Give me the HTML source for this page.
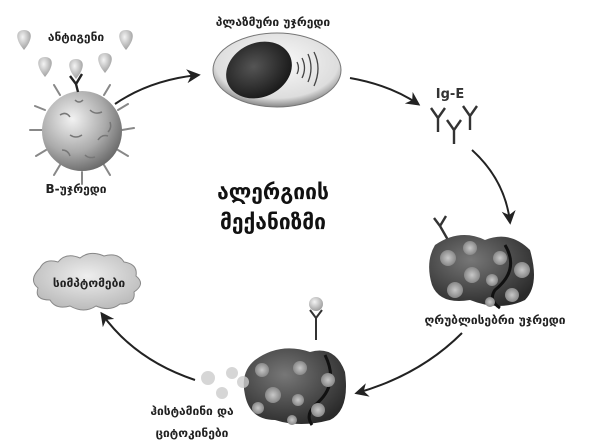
<!DOCTYPE html>
<html><head><meta charset="utf-8"><style>body{margin:0;background:#fff}svg{display:block}</style></head><body>
<svg width="600" height="445" viewBox="0 0 600 445" xmlns="http://www.w3.org/2000/svg" font-family="'DejaVu Sans', sans-serif">
<defs>
<radialGradient id="sph" cx="0.38" cy="0.35" r="0.7"><stop offset="0" stop-color="#f2f2f2"/><stop offset="0.6" stop-color="#aaa"/><stop offset="1" stop-color="#666"/></radialGradient>
<radialGradient id="drop" cx="0.4" cy="0.35" r="0.7"><stop offset="0" stop-color="#f4f4f4"/><stop offset="1" stop-color="#999"/></radialGradient>
<radialGradient id="ell" cx="0.5" cy="0.4" r="0.6"><stop offset="0" stop-color="#fafafa"/><stop offset="0.8" stop-color="#ddd"/><stop offset="1" stop-color="#888"/></radialGradient>
<radialGradient id="nuc" cx="0.45" cy="0.4" r="0.6"><stop offset="0" stop-color="#555"/><stop offset="1" stop-color="#1a1a1a"/></radialGradient>
<radialGradient id="mast" cx="0.4" cy="0.35" r="0.7"><stop offset="0" stop-color="#777"/><stop offset="1" stop-color="#2a2a2a"/></radialGradient>
<radialGradient id="gran" cx="0.5" cy="0.5" r="0.5"><stop offset="0" stop-color="#c8c8c8"/><stop offset="1" stop-color="#888"/></radialGradient>
<radialGradient id="cl" cx="0.5" cy="0.4" r="0.6"><stop offset="0" stop-color="#eee"/><stop offset="1" stop-color="#bbb"/></radialGradient>
<marker id="ah" viewBox="0 0 10 10" refX="8" refY="5" markerWidth="7" markerHeight="7" orient="auto"><path d="M0,0 L10,5 L0,10 L3,5z" fill="#222"/></marker>
<g id="d"><path d="M0,-10 C8,-10 10,-2 0,10 C-10,-2 -8,-10 0,-10z" fill="url(#drop)"/></g>
<g id="y"><path d="M0,0 V14 M0,0 L-7,-10 M0,0 L7,-10" stroke="#333" stroke-width="2.4" fill="none"/></g>
</defs>
<use href="#d" x="24" y="40"/><use href="#d" x="126" y="40"/><use href="#d" x="45" y="67"/><use href="#d" x="105" y="63"/><use href="#d" x="76" y="69"/>
<text x="76" y="41" font-size="12" font-weight="bold" text-anchor="middle" fill="#222">ანტიგენი</text>
<g stroke="#888" stroke-width="2" fill="none" stroke-linecap="round">
<path d="M45,110 l-10,-4 M42,130 l-12,0 M46,150 l-10,6 M60,165 l-6,10 M82,172 l0,12 M104,165 l6,10 M118,150 l10,6 M122,130 l12,-2 M118,110 l10,-6 M104,95 l6,-10 M60,95 l-6,-10"/>
</g>
<circle cx="82" cy="131" r="40" fill="url(#sph)"/>
<g stroke="#777" stroke-width="1.5" fill="none"><path d="M60,115 q6,-4 10,2 M90,110 q5,5 12,2 M70,135 q6,4 12,0 M98,140 q4,-6 10,-4 M62,150 q6,0 8,6 M85,155 q4,4 10,2 M75,100 q4,4 8,0 M110,122 q2,6 -2,10"/></g>
<path d="M78,92 L76,84 M76,84 L70,76 M76,84 L82,74" stroke="#222" stroke-width="2.4" fill="none"/>
<text x="76" y="193" font-size="12" font-weight="bold" text-anchor="middle" fill="#222">B-უჯრედი</text>
<path d="M115,104 Q150,80 198,75" stroke="#222" stroke-width="2" fill="none" marker-end="url(#ah)"/>
<text x="273" y="26" font-size="12" font-weight="bold" text-anchor="middle" fill="#222">პლაზმური უჯრედი</text>
<ellipse cx="277" cy="70" rx="64" ry="37" fill="url(#ell)" stroke="#777"/>
<ellipse cx="259" cy="70" rx="34" ry="27" fill="url(#nuc)" transform="rotate(-25 259 70)"/>
<g stroke="#444" stroke-width="1.3" fill="none"><path d="M297,62 q3,6 0,12 M302,58 q5,10 0,20 M308,54 q6,14 0,28 M314,52 q8,16 0,34"/></g>
<path d="M350,78 Q390,85 418,104" stroke="#222" stroke-width="2" fill="none" marker-end="url(#ah)"/>
<text x="450" y="98" font-size="13" font-weight="bold" text-anchor="middle" fill="#333">Ig-E</text>
<use href="#y" x="438" y="118"/><use href="#y" x="454" y="130"/><use href="#y" x="470" y="116"/>
<path d="M472,150 Q505,180 510,222" stroke="#222" stroke-width="2" fill="none" marker-end="url(#ah)"/>
<path d="M440,226 L448,240" stroke="#333" stroke-width="2.4"/><path d="M440,226 l-6,-8 M440,226 l6,-10" stroke="#333" stroke-width="2.4"/>
<path d="M435,245 Q460,228 485,240 Q510,230 530,250 Q540,285 525,300 Q500,312 470,300 Q440,305 432,285 Q425,262 435,245z" fill="url(#mast)"/>
<path d="M505,245 Q520,270 495,290 Q488,300 500,308" stroke="#111" stroke-width="3" fill="none"/>
<g fill="url(#gran)"><circle cx="448" cy="258" r="8"/><circle cx="470" cy="248" r="7"/><circle cx="500" cy="258" r="7"/><circle cx="472" cy="275" r="8"/><circle cx="492" cy="280" r="6"/><circle cx="522" cy="270" r="8"/><circle cx="455" cy="290" r="8"/><circle cx="512" cy="295" r="7"/><circle cx="490" cy="302" r="5"/></g>
<text x="495" y="324" font-size="12" font-weight="bold" text-anchor="middle" fill="#222">ღრუბლისებრი უჯრედი</text>
<path d="M462,333 Q420,375 357,393" stroke="#222" stroke-width="2" fill="none" marker-end="url(#ah)"/>
<path d="M316,340 V318 M316,318 l-6,-8 M316,318 l6,-8" stroke="#333" stroke-width="2"/>
<circle cx="316" cy="304" r="7" fill="url(#drop)"/>
<path d="M255,360 Q280,342 310,352 Q335,345 345,372 Q350,410 330,420 Q300,428 275,420 Q250,420 245,395 Q240,372 255,360z" fill="url(#mast)"/>
<path d="M325,355 Q340,385 315,405 Q305,415 312,425" stroke="#111" stroke-width="3" fill="none"/>
<g fill="url(#gran)"><circle cx="262" cy="370" r="7"/><circle cx="300" cy="368" r="7"/><circle cx="273" cy="395" r="8"/><circle cx="298" cy="400" r="6"/><circle cx="328" cy="380" r="7"/><circle cx="258" cy="408" r="6"/><circle cx="318" cy="410" r="7"/><circle cx="292" cy="420" r="5"/></g>
<g fill="#ccc" opacity="0.8"><circle cx="208" cy="378" r="7"/><circle cx="232" cy="373" r="6"/><circle cx="222" cy="393" r="6"/><circle cx="243" cy="382" r="6"/></g>
<text x="192" y="415" font-size="12" font-weight="bold" text-anchor="middle" fill="#222">ჰისტამინი და</text>
<text x="192" y="437" font-size="12" font-weight="bold" text-anchor="middle" fill="#222">ციტოკინები</text>
<path d="M40,268 q5,-10 18,-6 q8,-10 22,-4 q10,-8 24,-2 q14,-4 20,6 q14,2 12,14 q10,8 -2,16 q2,12 -14,12 q-10,8 -24,2 q-12,8 -26,0 q-14,4 -20,-6 q-16,0 -12,-12 q-10,-8 2,-20z" fill="url(#cl)" stroke="#888"/>
<text x="89" y="287" font-size="12" font-weight="bold" text-anchor="middle" fill="#222">სიმპტომები</text>
<path d="M195,380 Q135,360 102,314" stroke="#222" stroke-width="2" fill="none" marker-end="url(#ah)"/>
<text x="273" y="199" font-size="21" font-weight="bold" text-anchor="middle" fill="#111">ალერგიის</text>
<text x="273" y="229" font-size="21" font-weight="bold" text-anchor="middle" fill="#111">მექანიზმი</text>
</svg>
</body></html>
